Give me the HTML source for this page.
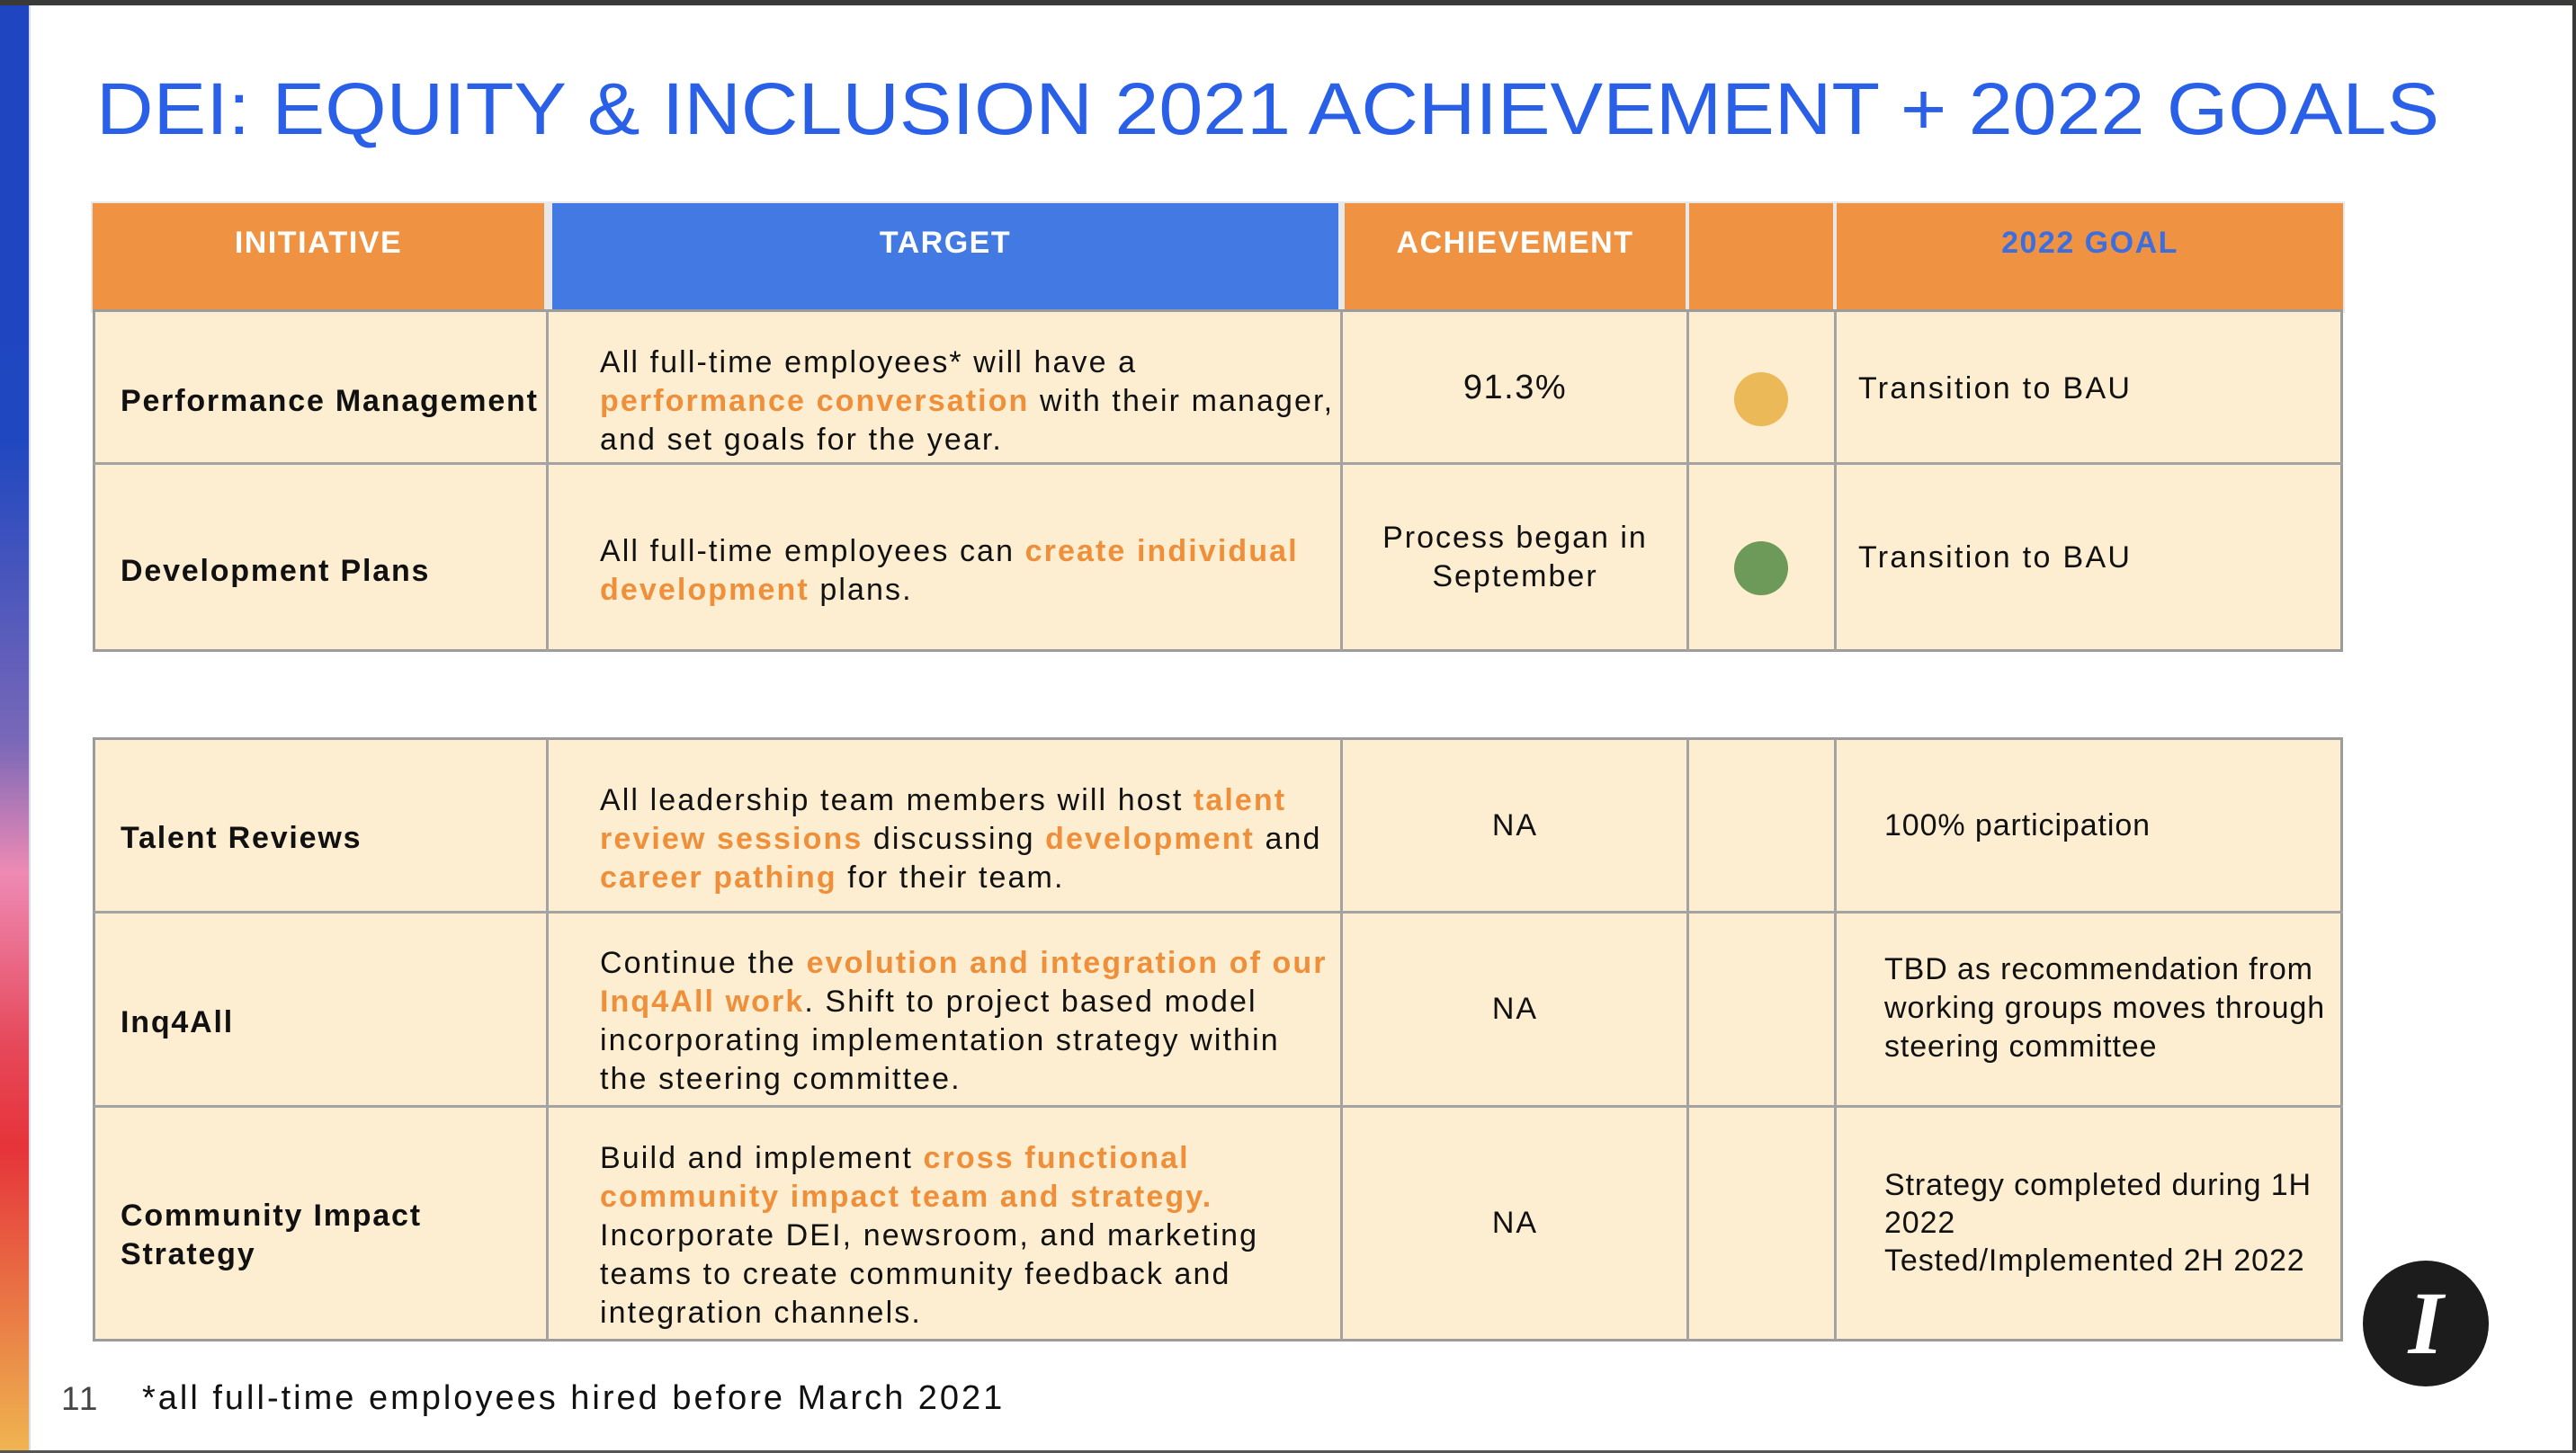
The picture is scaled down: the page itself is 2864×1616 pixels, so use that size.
<!DOCTYPE html>
<html><head><meta charset="utf-8">
<style>
*{margin:0;padding:0;box-sizing:border-box}
body{width:2864px;height:1616px;position:relative;background:#fff;overflow:hidden;font-family:"Liberation Sans",Arial,sans-serif}
.abs{position:absolute}
.txt{position:absolute;font-size:34px;line-height:43px;color:#111;white-space:nowrap;letter-spacing:2.1px}
.b{font-weight:bold;letter-spacing:1.8px}
.o{color:#ef8f3a;font-weight:bold}
.hd{position:absolute;top:226px;height:120px;background:#ef9343;color:#fff;font-weight:bold;font-size:34px;text-align:center;padding-top:25px;letter-spacing:1.5px}
.tbl{position:absolute;left:103px;width:2502px;background:#fdeed2;border:3px solid #9c9c9c}
.vl{position:absolute;width:3px;background:#a3a3a3}
.hl{position:absolute;height:3px;background:#a3a3a3;left:103px;width:2502px}
.ctr{text-align:center}
.ach{letter-spacing:2px}
.gl{letter-spacing:2.3px}
.ar{font-family:"Liberation Sans",Arial,sans-serif;letter-spacing:0.9px}
</style></head><body>
<div class="abs" style="left:0;top:0;width:2864px;height:6px;background:#3a3a38"></div>
<div class="abs" style="right:0;top:0;width:4px;height:1616px;background:#3a3a38"></div>
<div class="abs" style="left:0;bottom:0;width:2864px;height:3px;background:#555"></div>
<div class="abs" style="left:0;top:6px;width:32px;height:1607px;background:linear-gradient(to bottom,#1f45c0 0%,#1f47c0 30%,#7a68b8 51%,#ee8ab4 60%,#e6485a 72%,#e6333a 79%,#ea8a48 93%,#f0b450 100%)"></div>
<div class="abs" style="left:32px;top:6px;width:2px;height:1607px;background:#d8dbe8"></div>

<svg class="abs" style="left:0;top:0" width="2864" height="200">
<text x="107" y="149" font-family="Liberation Sans, Arial, sans-serif" font-size="82" fill="#2a5fe8" textLength="2605" lengthAdjust="spacingAndGlyphs">DEI: EQUITY &amp; INCLUSION 2021 ACHIEVEMENT + 2022 GOALS</text>
</svg>

<!-- header -->
<div class="abs" style="left:101px;top:224px;width:2506px;height:124px;background:#e8e8e8"></div>
<div class="hd" style="left:103px;width:502px">INITIATIVE</div>
<div class="hd" style="left:614px;width:874px;background:#4279e3">TARGET</div>
<div class="hd" style="left:1495px;width:379px">ACHIEVEMENT</div>
<div class="hd" style="left:1878px;width:160px"></div>
<div class="hd" style="left:2042px;width:563px;color:#3c6ee0">2022 GOAL</div>

<!-- table 1 -->
<div class="tbl" style="top:344px;height:381px"></div>
<div class="vl" style="left:607px;top:346px;height:378px"></div>
<div class="vl" style="left:1490px;top:346px;height:378px"></div>
<div class="vl" style="left:1875px;top:346px;height:378px"></div>
<div class="vl" style="left:2039px;top:346px;height:378px"></div>
<div class="hl" style="top:514px"></div>

<div class="txt b" style="left:134px;top:425px">Performance Management</div>
<div class="txt" style="left:667px;top:382px">All full-time employees* will have a<br><span class="o">performance conversation</span> with their manager,<br>and set goals for the year.</div>
<div class="txt ctr" style="left:1493px;width:383px;top:410px;font-size:38px;letter-spacing:1.5px">91.3%</div>
<div class="abs" style="left:1928px;top:414px;width:60px;height:60px;border-radius:50%;background:#ebb957"></div>
<div class="txt gl" style="left:2066px;top:411px">Transition to BAU</div>

<div class="txt b" style="left:134px;top:614px">Development Plans</div>
<div class="txt" style="left:667px;top:592px">All full-time employees can <span class="o">create individual</span><br><span class="o">development</span> plans.</div>
<div class="txt ctr ach" style="left:1493px;width:383px;top:577px">Process began in<br>September</div>
<div class="abs" style="left:1928px;top:602px;width:60px;height:60px;border-radius:50%;background:#6e9a59"></div>
<div class="txt gl" style="left:2066px;top:599px">Transition to BAU</div>

<!-- table 2 -->
<div class="tbl" style="top:820px;height:672px"></div>
<div class="vl" style="left:607px;top:822px;height:668px"></div>
<div class="vl" style="left:1490px;top:822px;height:668px"></div>
<div class="vl" style="left:1875px;top:822px;height:668px"></div>
<div class="vl" style="left:2039px;top:822px;height:668px"></div>
<div class="hl" style="top:1013px"></div>
<div class="hl" style="top:1229px"></div>

<div class="txt b" style="left:134px;top:911px">Talent Reviews</div>
<div class="txt" style="left:667px;top:869px">All leadership team members will host <span class="o">talent</span><br><span class="o">review sessions</span> discussing <span class="o">development</span> and<br><span class="o">career pathing</span> for their team.</div>
<div class="txt ctr ach" style="left:1493px;width:383px;top:897px">NA</div>
<div class="txt ar" style="left:2095px;top:897px">100% participation</div>

<div class="txt b" style="left:134px;top:1116px">Inq4All</div>
<div class="txt" style="left:667px;top:1050px">Continue the <span class="o">evolution and integration of our</span><br><span class="o">Inq4All work</span>. Shift to project based model<br>incorporating implementation strategy within<br>the steering committee.</div>
<div class="txt ctr ach" style="left:1493px;width:383px;top:1101px">NA</div>
<div class="txt ar" style="left:2095px;top:1057px">TBD as recommendation from<br>working groups moves through<br>steering committee</div>

<div class="txt b" style="left:134px;top:1331px">Community Impact<br>Strategy</div>
<div class="txt" style="left:667px;top:1267px;line-height:43px">Build and implement <span class="o">cross functional</span><br><span class="o">community impact team and strategy.</span><br>Incorporate DEI, newsroom, and marketing<br>teams to create community feedback and<br>integration channels.</div>
<div class="txt ctr ach" style="left:1493px;width:383px;top:1339px">NA</div>
<div class="txt ar" style="left:2095px;top:1297px;line-height:42px">Strategy completed during 1H<br>2022<br>Tested/Implemented 2H 2022</div>

<!-- footer -->
<div class="txt" style="left:68px;top:1534px;font-size:37px;color:#444;letter-spacing:2px">11</div>
<div class="txt" style="left:158px;top:1534px;font-size:38px;letter-spacing:3px">*all full-time employees hired before March 2021</div>

<div class="abs" style="left:2627px;top:1402px;width:140px;height:140px;border-radius:50%;background:#1c1c1c;color:#fff;font-family:'Liberation Serif',serif;font-weight:bold;font-style:italic;font-size:100px;line-height:140px;text-align:center">I</div>
</body></html>
